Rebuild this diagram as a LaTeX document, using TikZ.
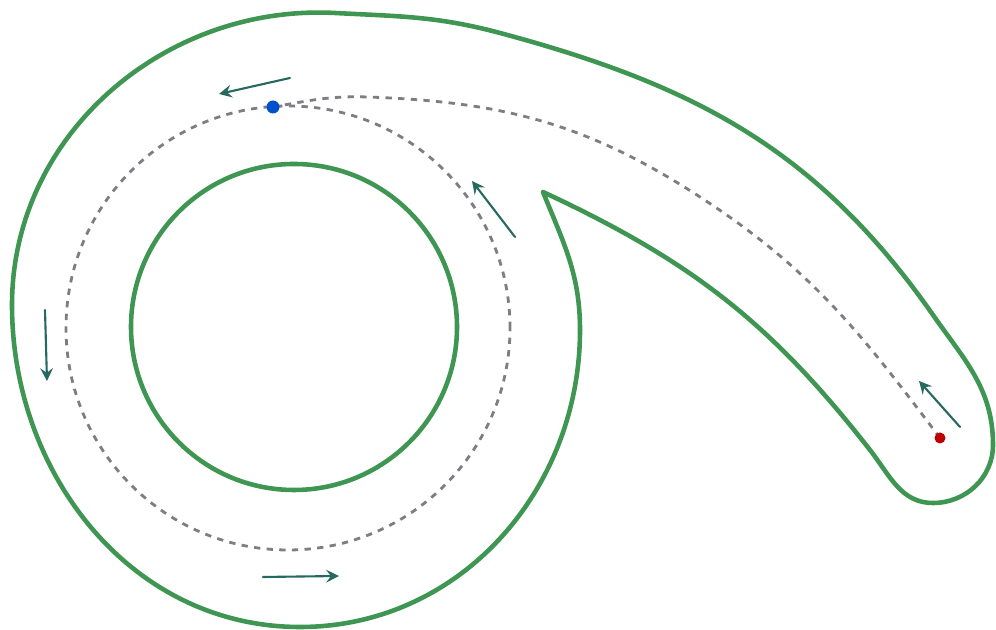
\documentclass[tikz,border=0pt]{standalone}
\usetikzlibrary{arrows.meta}
\definecolor{trackgreen}{RGB}{62,150,82}
\definecolor{arrowteal}{RGB}{38,105,95}
\definecolor{routegray}{RGB}{128,124,132}
\begin{document}
\begin{tikzpicture}[line join=round,line cap=round,>=stealth,
  track/.style={trackgreen,line width=1.3pt},
  route/.style={routegray,line width=0.8pt,line cap=butt,dash pattern=on 1.8pt off 1.8pt},
  dir/.style={arrowteal,line width=0.6pt,->}]
\useasboundingbox (0,0) rectangle (9.96,6.3);
% track
\draw[track] (2.94,3.03) circle (1.63);
\draw[track] (5.43,4.38) to[out=-25,in=128] (8.70,1.80) to[out=-52,in=180] (9.33,1.27)
  to[out=0,in=-90] (9.93,1.85) to[out=90,in=-55] (9.33,3.15) to[out=125,in=-15] (5.00,5.97)
  to[out=165,in=-3] (3.35,6.17) to[out=177,in=90] (0.12,3.25) to[out=-90,in=180] (3.00,0.03)
  to[out=0,in=-90] (5.80,3.00) to[out=90,in=-68] (5.43,4.38);
% route
\coordinate (start) at (9.40,1.92);
\coordinate (join) at (2.73,5.23);
\draw[route] (2.88,3.02) circle (2.22);
\draw[route] (start) to[out=127,in=-33] (7.00,4.33) to[out=147,in=-2] (3.67,5.33) to[out=178,in=10] (join);
% direction
\draw[dir] (2.90,5.52)--(2.19,5.36);
\draw[dir] (0.45,3.20)--(0.47,2.49);
\draw[dir] (2.63,0.53)--(3.39,0.54);
\draw[dir] (5.15,3.93)--(4.72,4.49);
\draw[dir] (9.60,2.03)--(9.19,2.49);
\fill[red!75!black] (start) circle (0.055);
\fill[blue!60!cyan!80!black] (join) circle (0.065);
\end{tikzpicture}
\end{document}
